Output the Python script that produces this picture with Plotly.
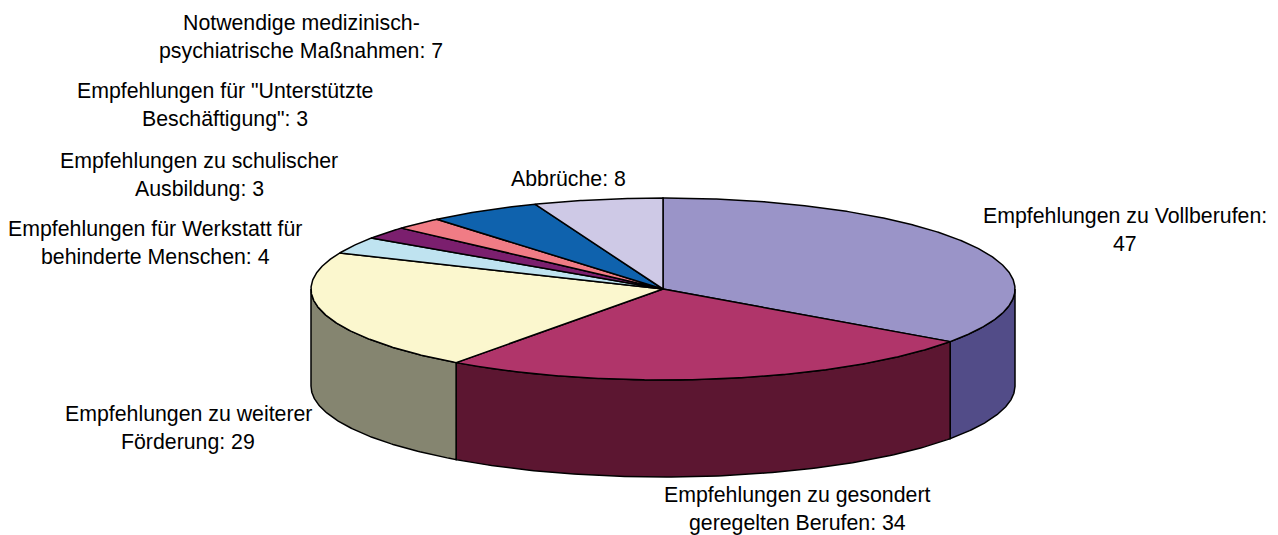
import numpy as np
import plotly.graph_objects as go

categories = ["Empfehlungen zu Vollberufen", "Empfehlungen zu gesondert geregelten Berufen",
              "Empfehlungen zu weiterer Förderung", "Empfehlungen für Werkstatt für behinderte Menschen",
              "Empfehlungen zu schulischer Ausbildung", "Empfehlungen für \"Unterstützte Beschäftigung\"",
              "Notwendige medizinisch-psychiatrische Maßnahmen", "Abbrüche"]
values = [47, 34, 29, 4, 3, 3, 7, 8]
top_colors = ["#9A94C8", "#B0356A", "#FBF7CE", "#BFE3F0", "#7B1F6E", "#F07C85", "#0F62AD", "#CEC9E6"]
side_colors = ["#524C88", "#5C1631", "#858570", "#5F7178", "#3D0F37", "#783E42", "#083156", "#676473"]

label_lines = [
    ["Empfehlungen zu Vollberufen:", "47"],
    ["Empfehlungen zu gesondert", "geregelten Berufen: 34"],
    ["Empfehlungen zu weiterer", "Förderung: 29"],
    ["Empfehlungen für Werkstatt für", "behinderte Menschen: 4"],
    ["Empfehlungen zu schulischer", "Ausbildung: 3"],
    ["Empfehlungen für \"Unterstützte", "Beschäftigung\": 3"],
    ["Notwendige medizinisch-", "psychiatrische Maßnahmen: 7"],
    ["Abbrüche: 8"],
]
label_x = [1125, 797, 188, 155, 199, 225, 301, 568]
label_y = [216, 495, 414, 229, 161, 91, 23, 179]
LINE_GAP = 27.7

W, H = 1278, 535
CX, CY, RX, RY, DEPTH = 663, 289, 352, 91, 97


def ex(a):
    return CX + RX * np.sin(a)


def ey(a):
    return CY - RY * np.cos(a)


edges = np.concatenate([[0], np.cumsum(values)]) / sum(values) * 2 * np.pi
fig = go.Figure()
LINE = dict(color="black", width=1.5)

# walls of the near half of the disc
for i in range(len(values)):
    a0, a1 = max(edges[i], np.pi / 2), min(edges[i + 1], 3 * np.pi / 2)
    if a1 <= a0:
        continue
    t = np.linspace(a0, a1, 120)
    xs = np.concatenate([ex(t), ex(t[::-1]), [ex(t[0])]])
    ys = np.concatenate([ey(t), ey(t[::-1]) + DEPTH, [ey(t[0])]])
    fig.add_trace(go.Scatter(x=xs, y=ys, mode="lines", fill="toself", fillcolor=side_colors[i],
                             line=LINE, hoverinfo="skip", showlegend=False))

# top faces
for i in range(len(values)):
    t = np.linspace(edges[i], edges[i + 1], max(8, int(values[i] * 8)))
    xs = np.concatenate([[CX], ex(t), [CX]])
    ys = np.concatenate([[CY], ey(t), [CY]])
    fig.add_trace(go.Scatter(x=xs, y=ys, mode="lines", fill="toself", fillcolor=top_colors[i],
                             line=LINE, name=categories[i], hoverinfo="name", showlegend=False))

for lines, lx, ly in zip(label_lines, label_x, label_y):
    for k, line in enumerate(lines):
        fig.add_annotation(x=lx, y=ly + k * LINE_GAP, text=line, showarrow=False,
                           xanchor="center", yanchor="middle",
                           font=dict(family="Liberation Sans", size=21.3, color="black"))

fig.update_layout(
    width=W, height=H, margin=dict(l=0, r=0, t=0, b=0),
    paper_bgcolor="white", plot_bgcolor="white", showlegend=False,
    xaxis=dict(range=[0, W], visible=False, fixedrange=True),
    yaxis=dict(range=[H, 0], visible=False, fixedrange=True),
)
fig.write_html("out.html", config=dict(displayModeBar=False),
               post_script="document.body.style.margin='0';document.body.style.overflow='hidden';")
